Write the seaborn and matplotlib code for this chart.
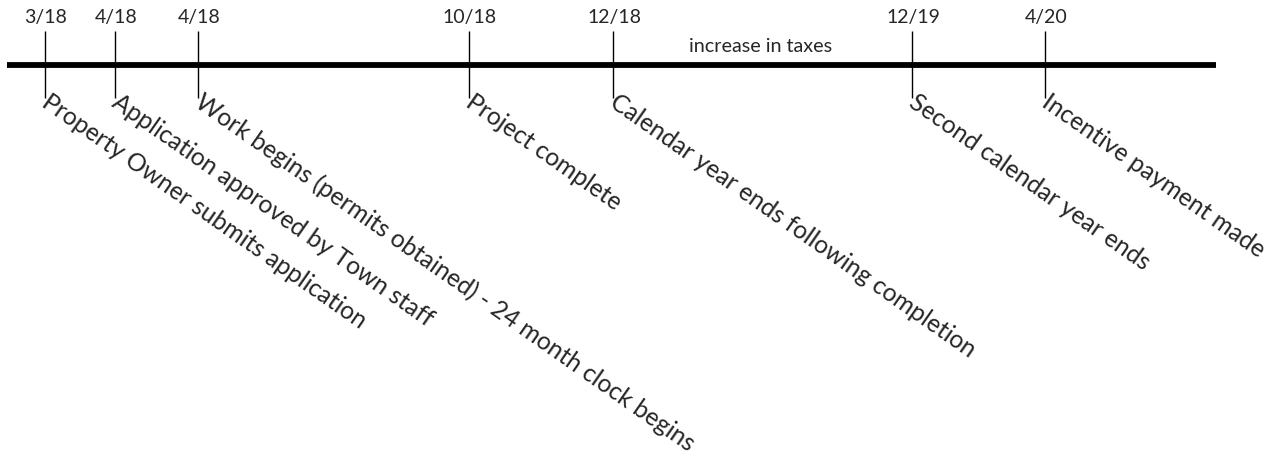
import matplotlib
matplotlib.use("Agg")
import matplotlib.pyplot as plt
import seaborn as sns

# timeline events (position along the line, 0..1279)
event_pos = [45, 115, 198, 469, 613, 912, 1045]
event_dates = ["3/18", "4/18", "4/18", "10/18", "12/18", "12/19", "4/20"]
event_labels = [
    "Property Owner submits application",
    "Application approved by Town staff",
    "Work begins (permits obtained) - 24 month clock begins",
    "Project complete",
    "Calendar year ends following completion",
    "Second calendar year ends",
    "Incentive payment made",
]
span_label = "increase in taxes"
span_range = [613, 912]

sns.set_theme(style="white")
plt.rcParams["font.family"] = ["Lato", "DejaVu Sans"]

fig = plt.figure(figsize=(12.79, 4.66), dpi=100)
ax = fig.add_axes([0, 0, 1, 1])
ax.set_xlim(0, 1279)
ax.set_ylim(466, 0)
ax.axis("off")

# main line
ax.hlines(64.5, 7, 1216, color="black", linewidth=4.2)

# ticks, dates and slanted descriptions
ax.vlines(event_pos, 31, 98, color="black", linewidth=1.0)
for x, d, lab in zip(event_pos, event_dates, event_labels):
    ax.text(x + 1, 23.5, d, ha="center", va="baseline", fontsize=14)
    ax.text(x - 5, 106, lab, ha="left", va="baseline", rotation=-35,
            rotation_mode="anchor", fontsize=17.7)

ax.text(sum(span_range) / 2 - 2, 52, span_label, ha="center",
        va="baseline", fontsize=14.2)

fig.savefig("out.png", dpi=100)
